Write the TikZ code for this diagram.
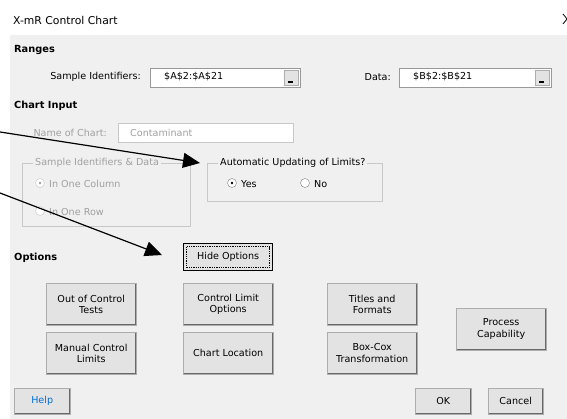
\documentclass[tikz,border=0pt]{standalone}
\usepackage{fontspec}
\setmainfont{DejaVu Sans}
\usetikzlibrary{arrows.meta,positioning}

\definecolor{dlgbg}{RGB}{240,240,240}
\definecolor{btnface}{RGB}{227,227,227}
\definecolor{btnedge}{RGB}{173,173,173}
\definecolor{btndark}{RGB}{105,105,105}
\definecolor{dimtext}{RGB}{160,160,160}
\definecolor{grpline}{RGB}{200,200,200}
\definecolor{helpblue}{RGB}{0,110,215}

\begin{document}
\begin{tikzpicture}[x=1pt,y=-1pt,
  font=\fontsize{9.6}{11.5}\selectfont,
  lbl/.style={inner sep=0pt,anchor=west},
  head/.style={lbl,font=\fontsize{9.8}{11.5}\selectfont\bfseries},
  dim/.style={lbl,text=dimtext},
  raised/.style={path picture={
    \draw[white,line width=2pt] (path picture bounding box.south west) -- (path picture bounding box.north west) -- (path picture bounding box.north east);
    \draw[btndark,line width=1.6pt] (path picture bounding box.north east) -- (path picture bounding box.south east) -- (path picture bounding box.south west);}},
  sunken/.style={path picture={
    \draw[btndark,line width=2pt] (path picture bounding box.south west) -- (path picture bounding box.north west) -- (path picture bounding box.north east);
    \draw[white,line width=2pt] (path picture bounding box.north east) -- (path picture bounding box.south east) -- (path picture bounding box.south west);}},
  btn/.style={draw=btnedge,fill=btnface,raised,anchor=north west,inner sep=0pt,align=center,
    minimum width=90pt,minimum height=42pt},
  smallbtn/.style={btn,minimum width=56pt,minimum height=26pt},
  field/.style={draw=gray!80,fill=white,sunken,anchor=north west,inner sep=0pt,minimum height=19pt},
  dropbtn/.style={draw=btnedge,fill=btnface,raised,inner sep=0pt,minimum width=14pt,minimum height=15pt,
    path picture={\draw[black,line width=1.5pt] ([xshift=-3pt,yshift=3pt]path picture bounding box.south) -- ([xshift=2pt,yshift=3pt]path picture bounding box.south);}},
  grp/.style={draw=grpline},
  grplbl/.style={lbl,fill=dlgbg,inner xsep=2pt},
  radio/.style={circle,draw=gray,fill=white,minimum size=9pt,inner sep=0pt},
  pointer/.style={draw=black,line width=1.2pt,-{Triangle[length=17pt,width=15pt]}}
]
\useasboundingbox (0,0) rectangle (567,419);
\fill[white] (0,0) rectangle (567,35);
\fill[dlgbg] (10,35) rectangle (567,419);

% title bar
\node[lbl,font=\fontsize{10.8}{13}\selectfont] (title) at (13,20) {X-mR Control Chart};
\draw[black,line width=0.8pt] (563,14) -- (567,19) -- (563,24);

% ranges
\node[head] (ranges) at (14,50) {Ranges};
\node[lbl,anchor=east] (sidlbl) at (141,77) {Sample Identifiers:};
\node[field,minimum width=150pt] (sidbox) at (150,68) {};
\node[lbl] (sidtxt) at (164,77) {\$A\$2:\$A\$21};
\node[dropbtn,anchor=east] (siddrop) at ([xshift=-2pt]sidbox.east) {};
\node[lbl,anchor=east] (datalbl) at (391,77) {Data:};
\node[field,minimum width=152pt] (databox) at (399,68) {};
\node[lbl] (datatxt) at (413,77) {\$B\$2:\$B\$21};
\node[dropbtn,anchor=east] (datadrop) at ([xshift=-2pt]databox.east) {};

% chart input
\node[head] (chartin) at (14,106) {Chart Input};
\node[dim,anchor=east] (namelbl) at (107,133) {Name of Chart:};
\node[draw=grpline,fill=white,anchor=north west,minimum width=175pt,minimum height=19pt] (namebox) at (118,123) {};
\node[dim] (nametxt) at (130,133) {Contaminant};

\draw[grp] (22,163) rectangle (190,226);
\node[grplbl,text=dimtext] (grp1) at (33,163) {Sample Identifiers \& Data};
\node[radio,draw=grpline] (col) at (40,183) {};
\fill[dimtext] (col) circle (1.4pt);
\node[dim] (coltxt) at (49,184) {In One Column};
\node[radio,draw=grpline] (row) at (40,211) {};
\node[dim] (rowtxt) at (49,212) {In One Row};

\draw[grp] (207,163) rectangle (382,201);
\node[grplbl] (grp2) at (218,163) {Automatic Updating of Limits?};
\node[radio] (yes) at (232,183) {};
\fill[black] (yes) circle (1.4pt);
\node[lbl] (yestxt) at (241,184) {Yes};
\node[radio] (no) at (305,183) {};
\node[lbl] (notxt) at (314,184) {No};

% options
\node[head] (opts) at (14,258) {Options};
\node[draw=black,line width=1.3pt,fill=btnface,anchor=north west,minimum width=89pt,minimum height=27pt,inner sep=0pt,
  path picture={\draw[densely dotted] ([shift={(3pt,-3pt)}]path picture bounding box.north west) rectangle ([shift={(-3pt,3pt)}]path picture bounding box.south east);}]
  (hide) at (183,243) {Hide Options};

\node[btn] (ooc) at (46,283) {Out of Control\\Tests};
\node[btn] (clo) at (183,283) {Control Limit\\Options};
\node[btn] (tf) at (327,283) {Titles and\\Formats};
\node[btn] (mcl) at (46,332) {Manual Control\\Limits};
\node[btn] (cloc) at (183,332) {Chart Location};
\node[btn] (bc) at (327,332) {Box-Cox\\Transformation};
\node[btn] (pc) at (456,308) {Process\\Capability};

\node[smallbtn,text=helpblue] (help) at (14,388) {Help};
\node[smallbtn] (ok) at (415,388) {OK};
\node[smallbtn,minimum width=55pt] (cancel) at (488,388) {Cancel};

% pointers
\coordinate (from1) at (0,132);
\coordinate (to1) at (200,163);
\coordinate (from2) at (0,193);
\coordinate (to2) at (162,255);
\draw[pointer] (from1) -- (to1);
\draw[pointer] (from2) -- (to2);
\end{tikzpicture}
\end{document}
